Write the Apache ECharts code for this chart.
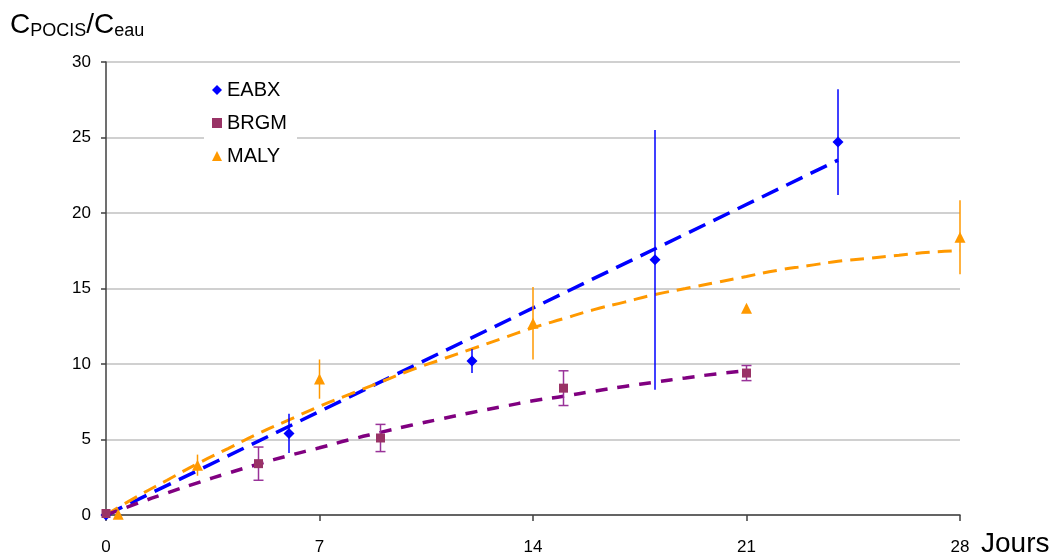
<!DOCTYPE html>
<html>
<head>
<meta charset="utf-8">
<script src="https://cdn.jsdelivr.net/npm/echarts@6/dist/echarts.min.js"></script>
<style>
html,body{margin:0;padding:0;background:#fff;}
#chart{width:1060px;height:559px;}
</style>
</head>
<body>
<div id="chart"></div>
<script>
// ---- data ----
const xTicks = [0, 7, 14, 21, 28];
const yTicks = [0, 5, 10, 15, 20, 25, 30];

const eabxX = [0, 6, 12, 18, 24];
const eabxY = [0, 5.4, 10.2, 16.9, 24.7];
const eabxErr = [0, 1.3, 0.8, 8.6, 3.5];

const brgmX = [0, 5, 9, 15, 21];
const brgmY = [0.1, 3.4, 5.1, 8.4, 9.4];
const brgmErr = [0, 1.1, 0.9, 1.15, 0.5];

const malyX = [0.4, 3, 7, 14, 21, 28];
const malyY = [0.05, 3.3, 9.0, 12.7, 13.7, 18.4];
const malyErr = [0, 0.7, 1.3, 2.4, 0.2, 2.45];

// trend lines
const eabxFitX = [0, 24];
const eabxFitY = [0, 23.5];

const brgmFitX = [0,1,2,3,4,5,6,7,8,9,10,11,12,13,14,15,16,17,18,19,20,21];
const brgmFitY = [0,0.75,1.46,2.13,2.77,3.37,3.94,4.45,4.99,5.47,5.94,6.37,6.79,7.18,7.56,7.87,8.2,8.51,8.8,9.08,9.34,9.55];

const malyFitX = [0,1,2,3,4,5,6,7,8,9,10,11,12,13,14,15,16,17,18,19,20,21,22,23,24,25,26,27,28];
const malyFitY = [0,1.2,2.3,3.4,4.4,5.4,6.3,7.2,8.0,8.8,9.6,10.3,11.0,11.7,12.4,13.0,13.6,14.1,14.6,15.0,15.4,15.8,16.2,16.5,16.8,17.0,17.2,17.4,17.5];

const zip = (a, b) => a.map((v, i) => [v, b[i]]);
const errData = (xs, ys, es) => xs.map((v, i) => [v, ys[i] - es[i], ys[i] + es[i]]);

function errRender(color, cap) {
  return function (params, api) {
    const x = api.value(0), lo = api.value(1), hi = api.value(2);
    if (hi - lo <= 0) return null;
    const p1 = api.coord([x, lo]);
    const p2 = api.coord([x, hi]);
    const style = { stroke: color, lineWidth: 1.5 };
    const children = [{ type: 'line', shape: { x1: p1[0], y1: p1[1], x2: p2[0], y2: p2[1] }, style: style }];
    if (cap) {
      children.push({ type: 'line', shape: { x1: p1[0] - 5, y1: p1[1], x2: p1[0] + 5, y2: p1[1] }, style: style });
      children.push({ type: 'line', shape: { x1: p2[0] - 5, y1: p2[1], x2: p2[0] + 5, y2: p2[1] }, style: style });
    }
    return { type: 'group', children: children };
  };
}

const FONT = 'Liberation Sans, Arial, sans-serif';
const chart = echarts.init(document.getElementById('chart'), null, { renderer: 'canvas' });

chart.setOption({
  animation: false,
  backgroundColor: '#fff',
  textStyle: { fontFamily: FONT },
  grid: { left: 106, right: 100, top: 62, bottom: 44, containLabel: false },
  title: {
    left: 5, top: 0,
    text: '{c|C}{s|POCIS}{c|/C}{s|eau}',
    textStyle: {
      fontWeight: 'normal',
      rich: {
        c: { fontFamily: FONT, fontSize: 28, fontWeight: 'normal', color: '#000', lineHeight: 34, verticalAlign: 'bottom' },
        s: { fontFamily: FONT, fontSize: 18, fontWeight: 'normal', color: '#000', lineHeight: 34, verticalAlign: 'bottom', padding: [0, 0, -1, 0] }
      }
    }
  },
  legend: {
    orient: 'vertical',
    left: 204, top: 75,
    data: ['EABX', 'BRGM', 'MALY'],
    itemWidth: 10, itemHeight: 10,
    itemGap: 13,
    padding: [5, 10, 5, 8],
    backgroundColor: '#fff',
    textStyle: { fontFamily: FONT, fontSize: 20, color: '#000' }
  },
  xAxis: {
    type: 'value', min: 0, max: 28, interval: 7,
    axisLine: { show: true, lineStyle: { color: '#404040', width: 1.5 } },
    axisTick: { show: true, length: 6, lineStyle: { color: '#404040', width: 1.5 } },
    axisLabel: { fontFamily: FONT, fontSize: 17, color: '#000', margin: 24,
      formatter: v => xTicks.includes(v) ? String(v) : '' },
    splitLine: { show: false }
  },
  yAxis: {
    type: 'value', min: 0, max: 30, interval: 5,
    axisLine: { show: true, lineStyle: { color: '#404040', width: 1.5 } },
    axisTick: { show: true, length: 5, inside: false, lineStyle: { color: '#404040', width: 1.5 } },
    axisLabel: { fontFamily: FONT, fontSize: 17, color: '#000', margin: 15,
      formatter: v => yTicks.includes(v) ? String(v) : '' },
    splitLine: { show: true, lineStyle: { color: '#c0c0c0', width: 1.5 } }
  },
  graphic: [{
    type: 'text', left: 981, top: 530,
    style: { text: 'Jours', fontFamily: FONT, fontSize: 28, fill: '#000' }
  }],
  series: [
    { name: 'eabxFit', type: 'line', data: zip(eabxFitX, eabxFitY), showSymbol: false, silent: true, z: 3,
      lineStyle: { color: '#0000FF', width: 3.5, type: [18, 9] } },
    { name: 'malyFit', type: 'line', data: zip(malyFitX, malyFitY), smooth: true, showSymbol: false, silent: true, z: 3,
      lineStyle: { color: '#FF9900', width: 3, type: [14, 8] } },
    { name: 'brgmFit', type: 'line', data: zip(brgmFitX, brgmFitY), smooth: true, showSymbol: false, silent: true, z: 3,
      lineStyle: { color: '#800080', width: 3.5, type: [12, 10] } },
    { type: 'custom', data: errData(eabxX, eabxY, eabxErr), renderItem: errRender('#0000FF', false), z: 4, silent: true },
    { type: 'custom', data: errData(brgmX, brgmY, brgmErr), renderItem: errRender('#993399', true), z: 4, silent: true },
    { type: 'custom', data: errData(malyX, malyY, malyErr), renderItem: errRender('#FF9900', false), z: 4, silent: true },
    { name: 'EABX', type: 'scatter', data: zip(eabxX, eabxY), symbol: 'diamond', symbolSize: 11, z: 5,
      itemStyle: { color: '#0000FF', opacity: 1 } },
    { name: 'BRGM', type: 'scatter', data: zip(brgmX, brgmY), symbol: 'rect', symbolSize: 9, z: 5,
      itemStyle: { color: '#993366', opacity: 1 } },
    { name: 'MALY', type: 'scatter', data: zip(malyX, malyY), symbol: 'triangle', symbolSize: 11, z: 5,
      itemStyle: { color: '#FF9900', opacity: 1 } }
  ]
});
</script>
</body>
</html>
